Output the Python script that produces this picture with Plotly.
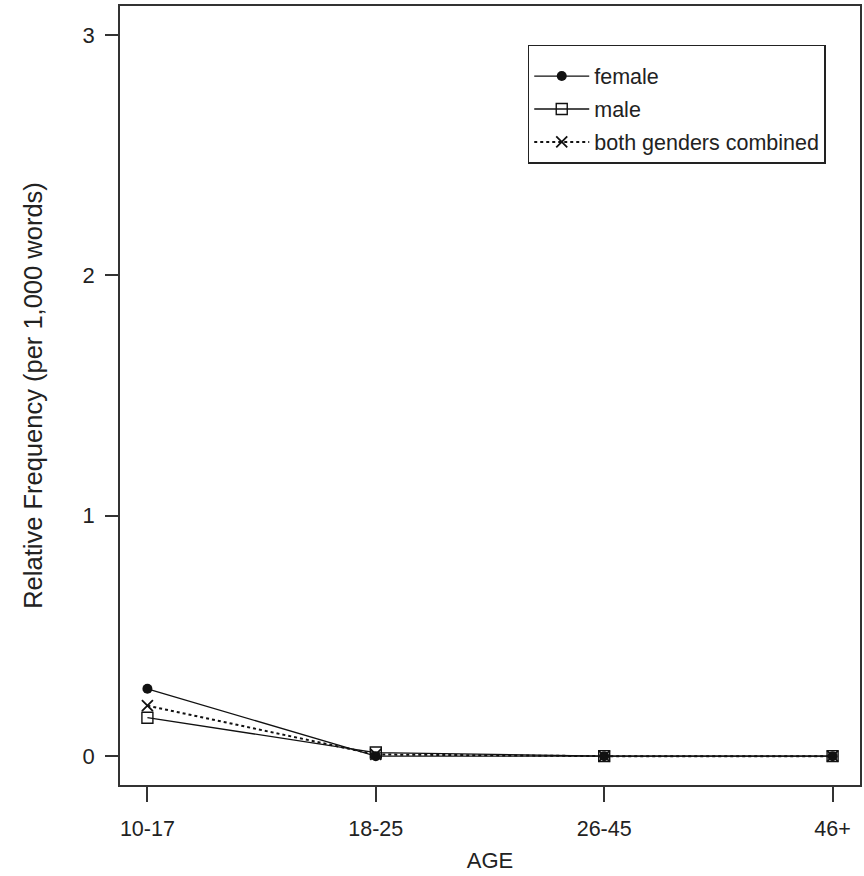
import plotly.graph_objects as go

ages = ["10-17", "18-25", "26-45", "46+"]
female = [0.28, 0.0, 0.0, 0.0]
male = [0.16, 0.015, 0.0, 0.0]
combined = [0.21, 0.007, 0.0, 0.0]
y_ticks = [0, 1, 2, 3]

font_family = "Liberation Sans, Arial, sans-serif"
ink = "#111111"

fig = go.Figure()
fig.add_trace(go.Scatter(
    x=ages, y=female, name="female", mode="lines+markers", legendgroup="f",
    line=dict(color=ink, width=1.3, dash="solid"),
    marker=dict(symbol="circle", size=10, color=ink),
))
fig.add_trace(go.Scatter(
    x=ages, y=male, name="male", mode="lines+markers", legendgroup="m",
    line=dict(color=ink, width=1.3, dash="solid"),
    marker=dict(symbol="square-open", size=11, color=ink, line=dict(width=1.4)),
))
fig.add_trace(go.Scatter(
    x=ages, y=combined, name="both genders combined", mode="lines+markers", legendgroup="c",
    line=dict(color=ink, width=2, dash="dot"),
    marker=dict(symbol="x-thin-open", size=11, color=ink, line=dict(width=1.8)),
))

axis_common = dict(
    showline=True, mirror=True, linecolor="#333333", linewidth=1.5,
    ticks="outside", tickcolor="#333333", tickwidth=1.5,
    showgrid=False, zeroline=False,
)

fig.update_layout(
    width=864, height=876,
    margin=dict(l=120, r=2, t=6, b=91),
    paper_bgcolor="white", plot_bgcolor="white",
    font=dict(family=font_family, size=21, color="#222222"),
    xaxis=dict(
        **axis_common, type="category", range=[-0.12, 3.12],
        ticklen=15, ticklabelstandoff=8, tickfont=dict(size=21.5),
        title=dict(text="AGE", font=dict(size=22), standoff=13),
    ),
    yaxis=dict(
        **axis_common, range=[-0.12, 3.12], tickvals=y_ticks,
        ticklen=13, ticklabelstandoff=6, tickfont=dict(size=22),
        title=dict(text="Relative Frequency (per 1,000 words)",
                   font=dict(size=25.5), standoff=33),
    ),
    legend=dict(
        x=0.551, y=0.95, xanchor="left", yanchor="top",
        bordercolor="#222222", borderwidth=1.5, bgcolor="white",
        font=dict(size=21.5, color="#222222"),
        title=dict(text=" ", font=dict(size=7)),
        tracegroupgap=2, itemwidth=55,
    ),
    showlegend=True,
)

fig.write_html("out.html")
